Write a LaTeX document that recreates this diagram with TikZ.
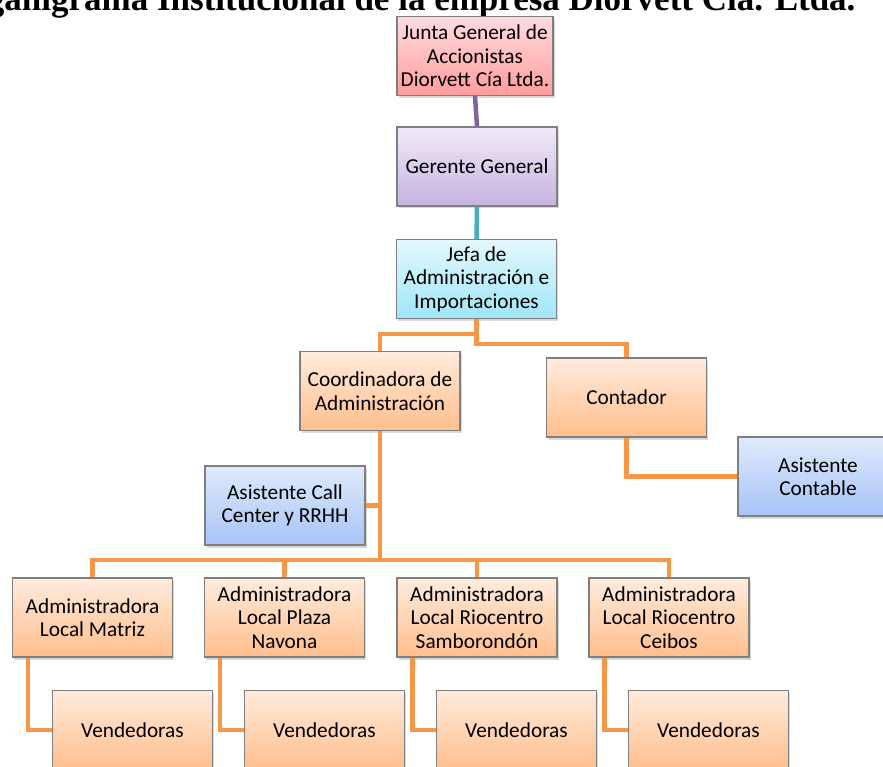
\documentclass[tikz,border=0pt]{standalone}
\usepackage{fontspec}
\setmainfont{Carlito}
\newfontfamily\titlefont{Liberation Serif}
\usetikzlibrary{shadows}
\definecolor{boxgray}{HTML}{7F7F7F}
\definecolor{lineorange}{HTML}{F79646}
\definecolor{linepurple}{HTML}{8064A2}
\definecolor{lineteal}{HTML}{4BACC6}
\definecolor{pinktop}{HTML}{FFDCDD}
\definecolor{pinkbot}{HTML}{FF9C9E}
\definecolor{lilactop}{HTML}{F0EAF7}
\definecolor{lilacbot}{HTML}{C6B3DF}
\definecolor{cyantop}{HTML}{E3F8FD}
\definecolor{cyanbot}{HTML}{9FE6F8}
\definecolor{orangetop}{HTML}{FFEBDD}
\definecolor{orangebot}{HTML}{FFBE8C}
\definecolor{bluetop}{HTML}{DFEAFC}
\definecolor{bluebot}{HTML}{A7C4F7}
\tikzset{
	box/.style={draw=boxgray, line width=1.2pt, minimum width=160pt, minimum height=79pt,
		align=center, font=\fontsize{21.3}{23.5}\selectfont,
		drop shadow={opacity=0.3, shadow xshift=1.5pt, shadow yshift=-2.5pt}},
	pinkbox/.style={box, top color=pinktop, bottom color=pinkbot},
	lilacbox/.style={box, top color=lilactop, bottom color=lilacbot},
	cyanbox/.style={box, top color=cyantop, bottom color=cyanbot},
	orangebox/.style={box, top color=orangetop, bottom color=orangebot},
	bluebox/.style={box, top color=bluetop, bottom color=bluebot},
	orgline/.style={lineorange, line width=4.5pt},
}
\begin{document}
\begin{tikzpicture}[x=1pt, y=-1pt]
	\useasboundingbox (0,0) rectangle (883,767);
	\node[font=\titlefont\bfseries\fontsize{35}{38}\selectfont, anchor=base east] (titulo) at (859,11) {Organigrama Institucional de la empresa Diorvett Cía. Ltda.};

	\node[pinkbox, minimum width=156pt] (junta) at (475,56) {Junta General de\\Accionistas\\Diorvett Cía Ltda.};
	\node[lilacbox] (gerente) at (477,166.5) {Gerente General};
	\node[cyanbox] (jefa) at (476.5,279) {Jefa de\\Administración e\\Importaciones};
	\node[orangebox] (coord) at (380,391) {Coordinadora de\\Administración};
	\node[orangebox] (contador) at (626.5,397.5) {Contador};
	\node[bluebox] (contable) at (818,476.5) {Asistente\\Contable};
	\node[bluebox] (callc) at (285,505.5) {Asistente Call\\Center y RRHH};

	\node[orangebox] (adm1) at (92.5,617.5) {Administradora\\Local Matriz};
	\node[orangebox] (adm2) at (284.5,617.5) {Administradora\\Local Plaza\\Navona};
	\node[orangebox] (adm3) at (477,617.5) {Administradora\\Local Riocentro\\Samborondón};
	\node[orangebox] (adm4) at (669,617.5) {Administradora\\Local Riocentro\\Ceibos};

	\node[orangebox] (vend1) at (132.5,730) {Vendedoras};
	\node[orangebox] (vend2) at (324.5,730) {Vendedoras};
	\node[orangebox] (vend3) at (516.5,730) {Vendedoras};
	\node[orangebox] (vend4) at (708.5,730) {Vendedoras};

	\draw[linepurple, line width=4.5pt] (junta.south) -- (gerente.north);
	\draw[lineteal, line width=4.5pt] (gerente.south) -- (jefa.north);
	\draw[orgline] (jefa.south) -- ++(0,15) -| (coord.north);
	\draw[orgline] (jefa.south) -- ++(0,25) -| (contador.north);
	\draw[orgline] (contador.south) |- (contable.west);

	\coordinate (bus) at (380,560);
	\draw[orgline] (coord.south) -- (bus);
	\draw[orgline] (callc.east) -- (callc.east -| bus);
	\draw[orgline] (adm1.north) |- (bus) -| (adm4.north);
	\draw[orgline] (adm2.north) -- (adm2.north |- bus);
	\draw[orgline] (adm3.north) -- (adm3.north |- bus);

	\draw[orgline] ([xshift=16pt]adm1.south west) |- (vend1.west);
	\draw[orgline] ([xshift=16pt]adm2.south west) |- (vend2.west);
	\draw[orgline] ([xshift=16pt]adm3.south west) |- (vend3.west);
	\draw[orgline] ([xshift=16pt]adm4.south west) |- (vend4.west);
\end{tikzpicture}
\end{document}
